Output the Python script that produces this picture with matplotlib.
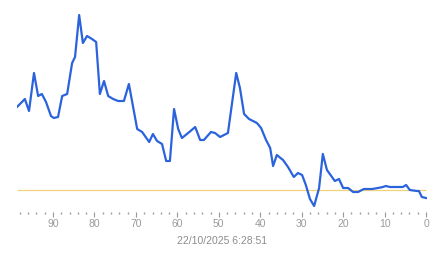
import matplotlib
matplotlib.use("Agg")
import matplotlib.pyplot as plt
from matplotlib.ticker import MultipleLocator

# points back from now (x) and level relative to the reference line (y)
x = [98.7, 96.8, 95.8, 94.6, 93.6, 92.7, 91.7, 90.5, 89.8, 88.8, 87.8, 86.6,
     85.4, 84.7, 83.7, 82.8, 81.8, 80.6, 79.6, 78.7, 77.7, 76.7, 75.5, 74.3,
     72.9, 71.7, 69.7, 68.5, 66.8, 65.9, 64.9, 63.7, 62.7, 61.8, 60.8, 59.8,
     58.9, 57.4, 55.7, 54.5, 53.6, 51.9, 50.9, 49.7, 47.8, 45.8, 44.9, 43.9,
     42.7, 40.8, 39.8, 38.6, 37.6, 36.9, 36.0, 34.5, 33.3, 31.9, 30.9, 29.9,
     29.0, 28.0, 27.0, 25.8, 24.9, 23.9, 22.0, 21.0, 20.0, 18.8, 17.6, 16.4,
     15.0, 13.0, 11.6, 10.4, 9.7, 8.7, 7.0, 5.6, 4.8, 3.9, 2.2, 1.7, 1.0, 0.0]
y = [83, 91, 79, 117, 94, 96, 88, 74, 72, 73, 94, 96,
     127, 133, 175, 147, 154, 151, 148, 96, 109, 94, 91, 89,
     89, 106, 61, 58, 48, 56, 49, 46, 29, 29, 81, 61,
     52, 57, 63, 50, 50, 58, 57, 53, 57, 117, 102, 76,
     71, 67, 62, 50, 42, 24, 35, 30, 23, 13, 17, 15,
     5, -9, -16, 2, 36, 20, 9, 11, 2, 2, -2, -2,
     1, 1, 2, 3, 4, 3, 3, 3, 5, 0, -1, -1, -7, -8]
ref_level = 0
stamp = "22/10/2025 6:28:51"

plt.rcParams['font.family'] = ['Liberation Sans', 'DejaVu Sans']

W, H = 443, 258
fig = plt.figure(figsize=(W / 100, H / 100), dpi=100)
# axes box in pixels: left 17, right 427, top 5, bottom 212
ax = fig.add_axes([17 / W, (H - 212) / H, 410 / W, 207 / H])

ax.hlines(ref_level, x[0], x[-1], color="#f0d27c", lw=0.9, zorder=1)
ax.plot(x, y, color="#2b63dc", lw=1.6, solid_joinstyle="round", zorder=2)

ax.set_xlim(98.7, -0.24)
ax.set_ylim(-22, 185)

for s in ax.spines.values():
    s.set_visible(False)
ax.set_yticks([])

ax.xaxis.set_major_locator(MultipleLocator(10))
ax.xaxis.set_minor_locator(MultipleLocator(2))
ax.tick_params(axis="x", which="major", length=3.5, width=0.8, color="#999999",
               labelsize=7.5, labelcolor="#9a9a9a", pad=1.5)
ax.tick_params(axis="x", which="minor", length=1.2, width=1.0, color="#9a9a9a")
ax.set_xticks(range(0, 91, 10))

fig.text(222 / W, 1 - 241 / H, stamp, ha="center", va="center",
         fontsize=7.5, color="#8c8c8c")

fig.savefig("out.png", dpi=100)
